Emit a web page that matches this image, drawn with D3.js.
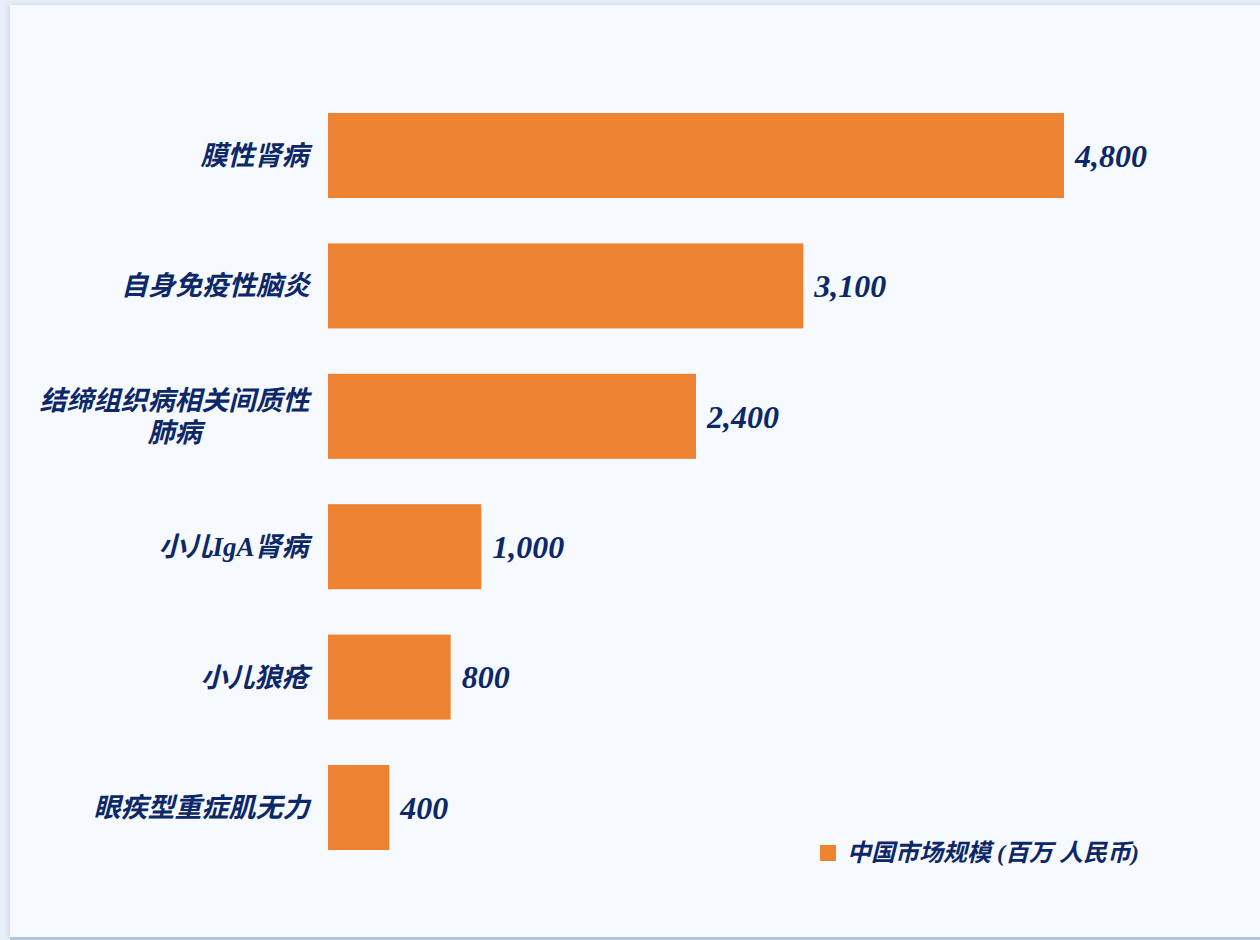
<!DOCTYPE html>
<html>
<head>
<meta charset="utf-8">
<script src="https://cdn.jsdelivr.net/npm/d3@7"></script>
<style>
  html, body { margin: 0; padding: 0; background: #e9f0fa; }
  svg { display: block; }
</style>
</head>
<body>
<svg id="chart" width="1260" height="940"></svg>
<script>
// Market size by indication, millions of RMB
const categories = ["膜性肾病", "自身免疫性脑炎", "结缔组织病相关间质性肺病", "小儿IgA肾病", "小儿狼疮", "眼疾型重症肌无力"];
const labelLines = [["膜性肾病"], ["自身免疫性脑炎"], ["结缔组织病相关间质性", "肺病"], ["小儿IgA肾病"], ["小儿狼疮"], ["眼疾型重症肌无力"]];
const values = [4800, 3100, 2400, 1000, 800, 400];
const seriesName = "中国市场规模 (百万 人民币)";

const navy = "#0c2868";
const orange = "#ee8431";
const fontStack = "'Liberation Serif', 'Noto Sans CJK SC', serif";

const svg = d3.select("#chart");

// card with soft shadow
const defs = svg.append("defs");
const f = defs.append("filter").attr("id", "shadow").attr("x", "-5%").attr("y", "-5%").attr("width", "110%").attr("height", "110%");
f.append("feDropShadow").attr("dx", -1).attr("dy", 0).attr("stdDeviation", 3).attr("flood-color", "#9fb2d3").attr("flood-opacity", 0.5);

svg.append("rect").attr("x", 10).attr("y", 5).attr("width", 1270).attr("height", 933)
  .attr("fill", "#f6f9fe").attr("filter", "url(#shadow)");
svg.append("rect").attr("x", 10).attr("y", 937).attr("width", 1250).attr("height", 3).attr("fill", "#b4c3dc");

const x = d3.scaleLinear().domain([0, 4800]).range([328, 1064]);
const y = d3.scaleBand().domain(categories).range([113, 850]).paddingInner(0.348).paddingOuter(0);

const fmt = d3.format(",");

svg.append("g").selectAll("rect").data(values).join("rect")
  .attr("x", x(0))
  .attr("y", (d, i) => y(categories[i]))
  .attr("width", d => x(d) - x(0))
  .attr("height", y.bandwidth())
  .attr("fill", orange);

// value labels
svg.append("g").selectAll("text").data(values).join("text")
  .attr("x", d => x(d) + 11)
  .attr("y", (d, i) => y(categories[i]) + y.bandwidth() / 2)
  .attr("dy", "0.35em")
  .attr("font-family", fontStack)
  .attr("font-style", "italic")
  .attr("font-weight", "bold")
  .attr("font-size", 32)
  .attr("fill", navy)
  .text(d => fmt(d));

// category labels
const lab = svg.append("g").selectAll("text").data(categories).join("text")
  .attr("text-anchor", "middle")
  .attr("font-family", fontStack)
  .attr("font-style", "italic")
  .attr("font-weight", "bold")
  .attr("font-size", 27)
  .attr("fill", navy);

lab.each(function(c, i) {
  const lines = labelLines[i];
  const t = d3.select(this);
  const cy = y(c) + y.bandwidth() / 2;
  const lh = 32;
  lines.forEach((ln, j) => {
    t.append("tspan")
      .attr("x", 0)
      .attr("y", cy + (j - (lines.length - 1) / 2) * lh)
      .attr("dy", "0.35em")
      .text(ln);
  });
});
// right-align block, centre lines within block
lab.each(function() {
  const bb = this.getBBox();
  d3.select(this).attr("transform", `translate(${311 - bb.width / 2},0)`);
});

// legend
const lg = svg.append("g").attr("transform", "translate(820,845)");
lg.append("rect").attr("width", 16).attr("height", 16).attr("fill", orange);
lg.append("text").attr("x", 27).attr("y", 8).attr("dy", "0.35em")
  .attr("font-family", fontStack).attr("font-style", "italic").attr("font-weight", "bold")
  .attr("font-size", 24).attr("fill", navy).text(seriesName);
</script>
</body>
</html>
